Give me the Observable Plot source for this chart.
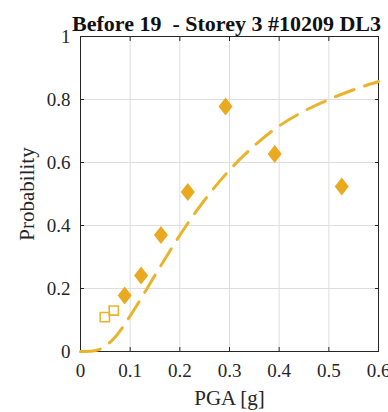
<!DOCTYPE html>
<html><head><meta charset="utf-8">
<script src="https://cdn.jsdelivr.net/npm/d3@7"></script>
<script src="https://cdn.jsdelivr.net/npm/@observablehq/plot@0.6"></script>
<style>
body{margin:0;background:#fff;}
svg{overflow:visible;}
svg text{white-space:pre;}
</style>
</head><body><div id="chart"></div>
<script>
const title = "Before 19  - Storey 3 #10209 DL3";
const xLabel = "PGA [g]";
const yLabel = "Probability";
const filledPGA = [0.089, 0.122, 0.162, 0.216, 0.292, 0.391, 0.526];
const filledProb = [0.178, 0.241, 0.370, 0.506, 0.778, 0.627, 0.524];
const openPGA = [0.049, 0.067];
const openProb = [0.109, 0.130];
const curvePGA = [0, 0.01, 0.02, 0.03, 0.04, 0.05, 0.06, 0.07, 0.08, 0.09, 0.10, 0.12, 0.14, 0.16, 0.18, 0.20, 0.22, 0.25, 0.28, 0.30, 0.33, 0.36, 0.40, 0.45, 0.50, 0.55, 0.60];
const curveProb = [0, 0, 0.0005, 0.003, 0.008, 0.017, 0.030, 0.046, 0.066, 0.089, 0.113, 0.163, 0.216, 0.268, 0.319, 0.369, 0.416, 0.481, 0.540, 0.576, 0.624, 0.667, 0.716, 0.763, 0.800, 0.831, 0.857];
const xTicks = [0, 0.1, 0.2, 0.3, 0.4, 0.5, 0.6];
const yTicks = [0, 0.2, 0.4, 0.6, 0.8, 1];

const filled = filledPGA.map((x, i) => ({x, y: filledProb[i]}));
const open = openPGA.map((x, i) => ({x, y: openProb[i]}));
const curve = curvePGA.map((x, i) => ({x, y: curveProb[i]}));

const tallDiamond = {draw(ctx, size) {
  const r = Math.sqrt(size / Math.PI), w = r * 0.78;
  ctx.moveTo(0, -r); ctx.lineTo(w, 0); ctx.lineTo(0, r); ctx.lineTo(-w, 0); ctx.closePath();
}};
const square = {draw(ctx, size) {
  const r = Math.sqrt(size / Math.PI);
  ctx.moveTo(-r, -r); ctx.lineTo(r, -r); ctx.lineTo(r, r); ctx.lineTo(-r, r); ctx.closePath();
}};

const font = "Liberation Serif, Times New Roman, serif";
const lineColor = "#E9B42C";
const dotColor = "#EAAA1F";
const fmt = d => d === 0 ? "0" : String(d);

const chart = Plot.plot({
  width: 388, height: 412,
  marginLeft: 80, marginRight: 10, marginTop: 36, marginBottom: 61,
  style: {fontFamily: font, background: "#fff", color: "#262626"},
  x: {domain: [0, 0.6]},
  y: {domain: [0, 1]},
  marks: [
    Plot.gridX(xTicks, {stroke: "#dedede", strokeOpacity: 1}),
    Plot.gridY(yTicks, {stroke: "#dedede", strokeOpacity: 1}),
    Plot.axisX(xTicks, {anchor: "bottom", tickSize: -4, tickPadding: 16, tickFormat: fmt, fontSize: 19, label: null, stroke: "#262626"}),
    Plot.axisX(xTicks, {anchor: "top", tickSize: -4, tickFormat: () => "", label: null, stroke: "#262626"}),
    Plot.axisY(yTicks, {anchor: "left", tickSize: -4, tickPadding: 14, tickFormat: fmt, fontSize: 19, label: null, stroke: "#262626"}),
    Plot.axisY(yTicks, {anchor: "right", tickSize: -4, tickFormat: () => "", label: null, stroke: "#262626"}),
    Plot.frame({stroke: "#262626", strokeWidth: 1}),
    Plot.line(curve, {x: "x", y: "y", stroke: lineColor, strokeWidth: 3, strokeDasharray: "20,11", curve: "monotone-x"}),
    Plot.dot(open, {x: "x", y: "y", symbol: square, r: 4.6, stroke: lineColor, strokeWidth: 1.6, fill: "none"}),
    Plot.dot(filled, {x: "x", y: "y", symbol: tallDiamond, r: 9, fill: dotColor, stroke: "none"}),
    Plot.text([title], {frameAnchor: "top", lineAnchor: "middle", dy: -13, dx: -3, fontWeight: "bold", fontSize: 22, fill: "#111"}),
    Plot.text([xLabel], {frameAnchor: "bottom", lineAnchor: "middle", dy: 47, fontSize: 21, fill: "#262626"}),
    Plot.text([yLabel], {frameAnchor: "left", textAnchor: "middle", lineAnchor: "middle", dx: -53, rotate: -90, fontSize: 21, fill: "#262626"})
  ]
});
document.getElementById("chart").appendChild(chart);
</script>
</body></html>
